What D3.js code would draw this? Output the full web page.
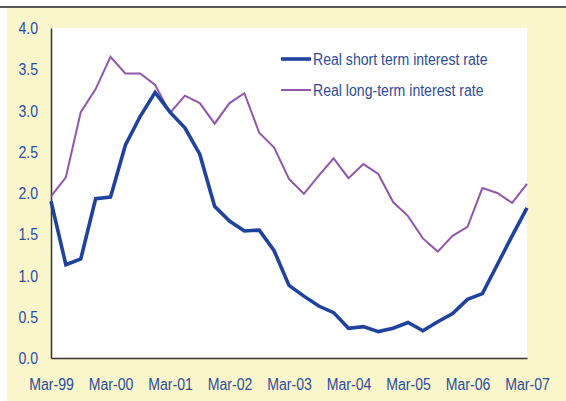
<!DOCTYPE html>
<html>
<head>
<meta charset="utf-8">
<script src="https://cdn.jsdelivr.net/npm/d3@7"></script>
<style>
  html, body { margin: 0; padding: 0; background: #ffffff; }
  svg { display: block; }
  text { font-family: "Liberation Sans", Arial, sans-serif; }
</style>
</head>
<body>
<svg id="chart" width="566" height="401"></svg>
<script>
const quarters = [
  "Mar-99","Jun-99","Sep-99","Dec-99",
  "Mar-00","Jun-00","Sep-00","Dec-00",
  "Mar-01","Jun-01","Sep-01","Dec-01",
  "Mar-02","Jun-02","Sep-02","Dec-02",
  "Mar-03","Jun-03","Sep-03","Dec-03",
  "Mar-04","Jun-04","Sep-04","Dec-04",
  "Mar-05","Jun-05","Sep-05","Dec-05",
  "Mar-06","Jun-06","Sep-06","Dec-06",
  "Mar-07"
];
const shortRate = [
  1.90, 1.13, 1.20, 1.93,
  1.95, 2.58, 2.93, 3.22,
  2.98, 2.79, 2.47, 1.84,
  1.66, 1.54, 1.55, 1.30,
  0.88, 0.75, 0.63, 0.55,
  0.36, 0.38, 0.32, 0.36,
  0.43, 0.33, 0.44, 0.54,
  0.71, 0.78, 1.13, 1.48,
  1.82
];
const longRate = [
  1.96, 2.19, 2.98, 3.26,
  3.65, 3.45, 3.45, 3.31,
  2.97, 3.18, 3.09, 2.84,
  3.09, 3.21, 2.73, 2.55,
  2.17, 1.99, 2.21, 2.42,
  2.18, 2.35, 2.23, 1.89,
  1.72, 1.45, 1.29, 1.48,
  1.59, 2.06, 2.00, 1.88,
  2.11
];
const xTickLabels = ["Mar-99","Mar-00","Mar-01","Mar-02","Mar-03","Mar-04","Mar-05","Mar-06","Mar-07"];
const yTicks = [0, 0.5, 1.0, 1.5, 2.0, 2.5, 3.0, 3.5, 4.0];
const seriesNames = ["Real short term interest rate", "Real long-term interest rate"];

const svg = d3.select("#chart");
const W = 566, H = 401;
const plot = { left: 51, right: 527, top: 28, bottom: 358 };
const textColor = "#2c4c9c";
const blue = "#1f439c";
const purple = "#9157a9";
const fontSize = "16px";
const squeeze = 0.88;

function condense(sel) {
  sel.each(function () {
    const w = this.getComputedTextLength();
    d3.select(this).attr("textLength", w * squeeze).attr("lengthAdjust", "spacingAndGlyphs");
  });
}

// background
svg.append("rect").attr("x", 7).attr("y", 8).attr("width", W - 7).attr("height", H - 8).attr("fill", "#faf6cb");
svg.append("line").attr("x1", 0).attr("x2", W).attr("y1", 7).attr("y2", 7).attr("stroke", "#222").attr("stroke-width", 1.5);
svg.append("rect").attr("x", plot.left).attr("y", plot.top)
  .attr("width", plot.right - plot.left).attr("height", plot.bottom - plot.top).attr("fill", "#ffffff");

const x = d3.scaleLinear().domain([0, quarters.length - 1]).range([plot.left, plot.right]);
const y = d3.scaleLinear().domain([0, 4]).range([plot.bottom, plot.top]);

// axes
const yAxis = d3.axisLeft(y).tickValues(yTicks).tickFormat(d3.format(".1f")).tickSize(0).tickPadding(13);
const gy = svg.append("g").attr("transform", `translate(${plot.left},0)`).call(yAxis);
gy.select(".domain").attr("stroke", "#333").attr("stroke-width", 1.5);
gy.selectAll("text").attr("fill", textColor).style("font-size", fontSize)
  .style("font-family", "'Liberation Sans', Arial, sans-serif").attr("dy", "0.35em").call(condense);

const xAxis = d3.axisBottom(x)
  .tickValues(xTickLabels.map(l => quarters.indexOf(l)))
  .tickFormat(i => quarters[i]).tickSize(0).tickPadding(21);
const gx = svg.append("g").attr("transform", `translate(0,${plot.bottom})`).call(xAxis);
gx.select(".domain").attr("stroke", "#333").attr("stroke-width", 1.5);
gx.selectAll("text").attr("fill", textColor).style("font-size", fontSize)
  .style("font-family", "'Liberation Sans', Arial, sans-serif").call(condense);

// lines
const line = d3.line().x((d, i) => x(i)).y(d => y(d));
svg.append("path").datum(longRate).attr("d", line)
  .attr("fill", "none").attr("stroke", purple).attr("stroke-width", 2).attr("stroke-linejoin", "miter");
svg.append("path").datum(shortRate).attr("d", line)
  .attr("fill", "none").attr("stroke", blue).attr("stroke-width", 3.6).attr("stroke-linejoin", "miter");

// legend
const legend = [
  { name: seriesNames[0], color: blue, w: 3.6, y: 59 },
  { name: seriesNames[1], color: purple, w: 2, y: 90 }
];
legend.forEach(l => {
  svg.append("line").attr("x1", 281).attr("x2", 311).attr("y1", l.y).attr("y2", l.y)
    .attr("stroke", l.color).attr("stroke-width", l.w);
  svg.append("text").attr("x", 313).attr("y", l.y).attr("dy", "0.35em")
    .attr("fill", textColor).style("font-size", fontSize).text(l.name).call(condense);
});
</script>
</body>
</html>
